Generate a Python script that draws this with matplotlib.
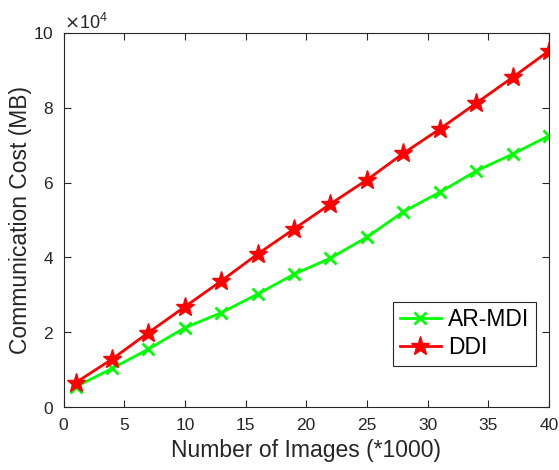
import matplotlib as mpl
import matplotlib.pyplot as plt

mpl.use("Agg")

images = [1, 4, 7, 10, 13, 16, 19, 22, 25, 28, 31, 34, 37, 40]
ar_mdi = [5400, 10300, 15500, 21200, 25200, 30200, 35500, 39800,
          45400, 52200, 57400, 63100, 67600, 72500]
ddi = [6500, 12800, 19900, 26800, 33700, 40900, 47600, 54300,
       60700, 67800, 74300, 81200, 88100, 95200]

plt.rcParams["font.family"] = ["Liberation Sans", "DejaVu Sans"]

fig = plt.figure(figsize=(5.59, 4.70), dpi=100)
ax = fig.add_axes([0.1136, 0.134, 0.8684, 0.796])

ax.plot(images, ar_mdi, color=(0, 1, 0), lw=2, marker="x", ms=8,
        mew=2, label="AR-MDI")
ax.plot(images, ddi, color=(1, 0, 0), lw=2, marker="*", ms=14,
        label="DDI")

ax.set_xlim(0, 40)
ax.set_ylim(0, 100000)
ax.set_xticks(range(0, 41, 5))
ax.set_yticks(range(0, 100001, 20000))
ax.ticklabel_format(axis="y", style="sci", scilimits=(4, 4), useMathText=True)
ax.yaxis.get_offset_text().set_fontsize(13)
ax.yaxis.get_offset_text().set_color("0.15")

ax.tick_params(direction="in", top=True, right=True, labelsize=12.5,
               colors="0.15", length=5)
ax.tick_params(axis="x", pad=8)
ax.tick_params(axis="y", pad=7)
for s in ax.spines.values():
    s.set_color("0.15")
    s.set_linewidth(0.8)

ax.set_xlabel("Number of Images (*1000)", fontsize=16.5, color="0.15",
              labelpad=4)
ax.set_ylabel("Communication Cost (MB)", fontsize=16.5, color="0.15",
              labelpad=1)

leg = ax.legend(loc="lower right", bbox_to_anchor=(0.973, 0.11),
                fontsize=16.5, fancybox=False, framealpha=1,
                edgecolor="0.15", handlelength=1.8, borderpad=0.3,
                labelspacing=0.2, handletextpad=0.3, borderaxespad=0)
leg.get_frame().set_linewidth(0.8)

fig.savefig("out.png", dpi=100)
